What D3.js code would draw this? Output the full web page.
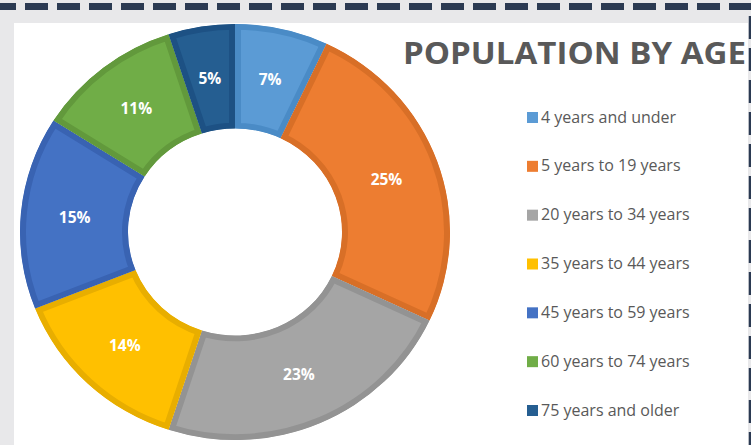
<!DOCTYPE html>
<html>
<head>
<meta charset="utf-8">
<script src="https://cdn.jsdelivr.net/npm/d3@7"></script>
<style>
  html, body { margin: 0; padding: 0; background: #e8e8ea; overflow: hidden; }
  svg { display: block; }
</style>
</head>
<body>
<svg id="chart"></svg>
<script>
// Chart data
const categories = [
  "4 years and under",
  "5 years to 19 years",
  "20 years to 34 years",
  "35 years to 44 years",
  "45 years to 59 years",
  "60 years to 74 years",
  "75 years and older"
];
const values = [7, 25, 23, 14, 15, 11, 5];
const title = "POPULATION BY AGE";

// Palette (fill / darker inner border)
const fills = ["#5b9bd5", "#ed7d31", "#a5a5a5", "#ffc000", "#4472c4", "#70ad47", "#255e91"];
const borders = ["#4a8bc6", "#d86f27", "#939393", "#e8ae00", "#3963b2", "#62993c", "#1d5184"];

const W = 751, H = 445;
const svg = d3.select("#chart").attr("width", W).attr("height", H);

// White panel
svg.append("rect")
  .attr("x", 14).attr("y", 23)
  .attr("width", 734).attr("height", H - 23)
  .attr("fill", "#fff");

// Dashed frame lines (top and right)
svg.append("line")
  .attr("x1", -7).attr("x2", W + 10)
  .attr("y1", 6.5).attr("y2", 6.5)
  .attr("stroke", "#2b3a52")
  .attr("stroke-width", 7)
  .attr("stroke-dasharray", "23,9");

svg.append("line")
  .attr("x1", 750).attr("x2", 750)
  .attr("y1", 16).attr("y2", H + 10)
  .attr("stroke", "#2b3a52")
  .attr("stroke-width", 2.5)
  .attr("stroke-dasharray", "23,9");

// Donut
const cx = 235, cy = 232;
const outerR = 215, innerR = 107;
const sy = 208 / 215;

const pie = d3.pie().sort(null).value(d => d);
const arcs = pie(values);
const arc = d3.arc().innerRadius(innerR).outerRadius(outerR);

const defs = svg.append("defs");
arcs.forEach((d, i) => {
  defs.append("clipPath")
    .attr("id", "clip-" + i)
    .append("path")
    .attr("d", arc(d));
});

const donut = svg.append("g")
  .attr("transform", `translate(${cx},${cy}) scale(1,${sy})`);

donut.selectAll("path.slice")
  .data(arcs)
  .enter().append("path")
  .attr("class", "slice")
  .attr("d", arc)
  .attr("fill", (d, i) => fills[i])
  .attr("stroke", (d, i) => borders[i])
  .attr("stroke-width", 12)
  .attr("stroke-linejoin", "round")
  .attr("clip-path", (d, i) => `url(#clip-${i})`);

// Percentage labels
svg.append("g").selectAll("text")
  .data(arcs)
  .enter().append("text")
  .attr("x", d => cx + arc.centroid(d)[0])
  .attr("y", d => cy + arc.centroid(d)[1] * sy)
  .attr("dy", "0.35em")
  .attr("text-anchor", "middle")
  .attr("fill", "#fff")
  .attr("font-family", "'Open Sans', sans-serif")
  .attr("font-weight", 700)
  .attr("font-size", "15.5px")
  .text(d => d.data + "%");

// Title
svg.append("text")
  .attr("x", 403)
  .attr("y", 64)
  .attr("fill", "#595959")
  .attr("font-family", "'Open Sans', sans-serif")
  .attr("font-weight", 700)
  .attr("font-size", "31px")
  .attr("textLength", 343)
  .attr("lengthAdjust", "spacingAndGlyphs")
  .text(title);

// Legend
const legendY = d3.scalePoint()
  .domain(categories)
  .range([117, 410]);

const legend = svg.append("g").selectAll("g")
  .data(categories)
  .enter().append("g")
  .attr("transform", d => `translate(527,${legendY(d)})`);

legend.append("rect")
  .attr("x", 0).attr("y", -5)
  .attr("width", 11).attr("height", 11)
  .attr("fill", (d, i) => fills[i]);

legend.append("text")
  .attr("x", 14)
  .attr("dy", "0.35em")
  .attr("fill", "#595959")
  .attr("font-family", "'Open Sans', sans-serif")
  .attr("font-size", "16px")
  .text(d => d);
</script>
</body>
</html>
